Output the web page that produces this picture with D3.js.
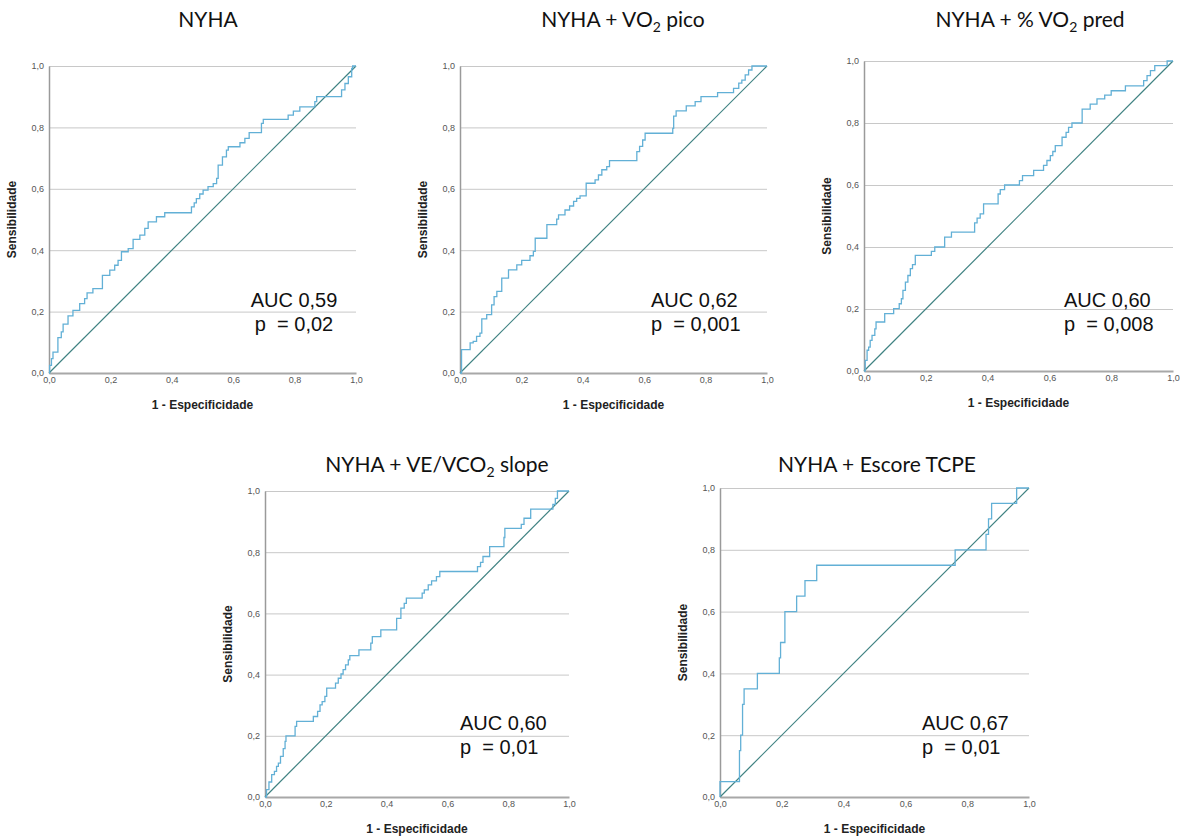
<!DOCTYPE html>
<html>
<head>
<meta charset="utf-8">
<script src="https://cdn.jsdelivr.net/npm/d3@7"></script>
<style>
  body { margin: 0; background: #fff; }
  svg { display: block; }
</style>
</head>
<body>
<div id="chart"></div>
<script>
const TICKS = [0, 0.2, 0.4, 0.6, 0.8, 1.0];

// odd segments are subscripts
const titles = [
    ["NYHA"],
    ["NYHA + VO", "2", " pico"],
    ["NYHA + % VO", "2", " pred"],
    ["NYHA + VE/VCO", "2", " slope"],
    ["NYHA + Escore TCPE"]
];
const aucLabels = ["AUC 0,59", "AUC 0,62", "AUC 0,60", "AUC 0,60", "AUC 0,67"];
const pLabels = ["p  = 0,02", "p  = 0,001", "p  = 0,008", "p  = 0,01", "p  = 0,01"];

// [1 - especificidade, sensibilidade] : at x the curve rises to y
const rocNyha = [
    [0, 0], [0.002, 0.025], [0.008, 0.047], [0.013, 0.068], [0.029, 0.115], [0.040, 0.134],
    [0.046, 0.159], [0.062, 0.186], [0.078, 0.204], [0.100, 0.226], [0.116, 0.242], [0.124, 0.261],
    [0.143, 0.275], [0.174, 0.318], [0.198, 0.335], [0.214, 0.351], [0.225, 0.367], [0.236, 0.395],
    [0.258, 0.405], [0.274, 0.435], [0.296, 0.449], [0.312, 0.471], [0.323, 0.492], [0.350, 0.509],
    [0.377, 0.522], [0.464, 0.541], [0.473, 0.554], [0.480, 0.568], [0.491, 0.583], [0.502, 0.596],
    [0.518, 0.607], [0.535, 0.617], [0.546, 0.634], [0.551, 0.677], [0.565, 0.704], [0.578, 0.726],
    [0.584, 0.737], [0.622, 0.750], [0.638, 0.764], [0.652, 0.783], [0.692, 0.813], [0.698, 0.826],
    [0.779, 0.840], [0.796, 0.853], [0.817, 0.867], [0.866, 0.884], [0.872, 0.900], [0.953, 0.922],
    [0.964, 0.943], [0.975, 0.965], [0.986, 0.992], [0.989, 1.0], [1.0, 1.0]
];
const rocVo2 = [
    [0, 0], [0.005, 0.076], [0.033, 0.098], [0.043, 0.103], [0.054, 0.119], [0.065, 0.130],
    [0.071, 0.176], [0.087, 0.190], [0.103, 0.222], [0.111, 0.249], [0.120, 0.266], [0.136, 0.309],
    [0.158, 0.336], [0.185, 0.352], [0.201, 0.367], [0.228, 0.382], [0.239, 0.396], [0.245, 0.439],
    [0.283, 0.483], [0.315, 0.501], [0.321, 0.515], [0.342, 0.531], [0.357, 0.544], [0.370, 0.559],
    [0.380, 0.569], [0.391, 0.577], [0.411, 0.618], [0.440, 0.629], [0.451, 0.645], [0.462, 0.662],
    [0.478, 0.672], [0.487, 0.692], [0.576, 0.721], [0.585, 0.738], [0.595, 0.759], [0.603, 0.781],
    [0.693, 0.797], [0.696, 0.837], [0.704, 0.854], [0.737, 0.870], [0.766, 0.884], [0.785, 0.900],
    [0.839, 0.913], [0.891, 0.927], [0.908, 0.944], [0.918, 0.954], [0.929, 0.971], [0.940, 0.987],
    [0.951, 1.0], [1.0, 1.0]
];
const rocVo2Pred = [
    [0, 0], [0.004, 0.034], [0.010, 0.067], [0.015, 0.077], [0.020, 0.099], [0.026, 0.115],
    [0.035, 0.136], [0.039, 0.158], [0.067, 0.185], [0.096, 0.201], [0.114, 0.217], [0.121, 0.233],
    [0.126, 0.260], [0.134, 0.287], [0.142, 0.308], [0.150, 0.330], [0.157, 0.343], [0.166, 0.373],
    [0.218, 0.386], [0.229, 0.400], [0.261, 0.432], [0.283, 0.448], [0.358, 0.478], [0.366, 0.493],
    [0.376, 0.507], [0.387, 0.539], [0.434, 0.571], [0.441, 0.585], [0.455, 0.600], [0.503, 0.614],
    [0.513, 0.630], [0.549, 0.647], [0.581, 0.663], [0.592, 0.679], [0.603, 0.695], [0.611, 0.708],
    [0.619, 0.727], [0.641, 0.754], [0.654, 0.770], [0.662, 0.786], [0.673, 0.800], [0.706, 0.845],
    [0.732, 0.861], [0.754, 0.878], [0.779, 0.890], [0.800, 0.904], [0.846, 0.920], [0.905, 0.937],
    [0.916, 0.953], [0.927, 0.969], [0.941, 0.985], [0.981, 1.0], [1.0, 1.0]
];
const rocVeVco2 = [
    [0, 0], [0.005, 0.024], [0.013, 0.049], [0.022, 0.073], [0.031, 0.084], [0.038, 0.100],
    [0.044, 0.111], [0.051, 0.133], [0.060, 0.158], [0.066, 0.182], [0.069, 0.200], [0.099, 0.231],
    [0.104, 0.247], [0.159, 0.263], [0.173, 0.280], [0.181, 0.301], [0.188, 0.312], [0.197, 0.329],
    [0.203, 0.356], [0.232, 0.372], [0.241, 0.388], [0.250, 0.402], [0.257, 0.416], [0.265, 0.432],
    [0.274, 0.448], [0.279, 0.462], [0.309, 0.481], [0.348, 0.503], [0.353, 0.524], [0.381, 0.546],
    [0.433, 0.584], [0.447, 0.617], [0.458, 0.633], [0.465, 0.650], [0.517, 0.666], [0.524, 0.677],
    [0.537, 0.693], [0.548, 0.706], [0.564, 0.720], [0.575, 0.737], [0.699, 0.753], [0.709, 0.767],
    [0.717, 0.786], [0.739, 0.818], [0.786, 0.848], [0.789, 0.878], [0.843, 0.891], [0.852, 0.911],
    [0.874, 0.941], [0.947, 0.956], [0.955, 0.976], [0.962, 1.0], [1.0, 1.0]
];
const rocTcpe = [
    [0, 0], [0, 0.05], [0.063, 0.15], [0.067, 0.20], [0.073, 0.30], [0.078, 0.35], [0.121, 0.40],
    [0.192, 0.45], [0.196, 0.50], [0.210, 0.60], [0.248, 0.65], [0.275, 0.70], [0.313, 0.75],
    [0.761, 0.80], [0.861, 0.85], [0.869, 0.90], [0.879, 0.95], [0.960, 1.0], [1.0, 1.0]
];
const rocSeries = [rocNyha, rocVo2, rocVo2Pred, rocVeVco2, rocTcpe];

// layout of each panel (plot box, title centre, AUC label)
const panels = [
    { x: 49, y: 66, w: 307, h: 307, tx: 208, ty: 27, ax: 294, ay: 307, anchor: "middle" },
    { x: 460, y: 66, w: 307, h: 307, tx: 623, ty: 27, ax: 651, ay: 307, anchor: "start" },
    { x: 864, y: 61, w: 309, h: 310, tx: 1030, ty: 27, ax: 1064, ay: 307, anchor: "start" },
    { x: 265, y: 491, w: 304, h: 306, tx: 437, ty: 472, ax: 460, ay: 730, anchor: "start" },
    { x: 720, y: 488, w: 309, h: 309, tx: 877, ty: 472, ax: 922, ay: 730, anchor: "start" }
];

const ROC_COLOR = "#62b0d6";
const DIAG_COLOR = "#3f8282";
const fmt = d => d3.format(".1f")(d).replace(".", ",");

const svg = d3.select("#chart")
    .append("svg")
    .attr("width", 1190)
    .attr("height", 837);

panels.forEach((p, i) => {
    const x = d3.scaleLinear().domain([0, 1]).range([0, p.w]);
    const y = d3.scaleLinear().domain([0, 1]).range([p.h, 0]);
    const g = svg.append("g").attr("transform", `translate(${p.x},${p.y})`);

    // horizontal grid lines
    g.append("g")
        .attr("class", "grid")
        .call(d3.axisLeft(y).tickValues(TICKS.slice(1)).tickSize(-p.w).tickFormat(""))
        .call(s => s.select(".domain").remove())
        .call(s => s.selectAll("line").attr("stroke", "#c8c8c8").attr("stroke-width", 1));

    // y axis
    g.append("g")
        .call(d3.axisLeft(y).tickValues(TICKS).tickSize(0).tickPadding(5).tickFormat(fmt))
        .call(s => s.select(".domain").attr("stroke", "#9a9a9a").attr("stroke-width", 1.5))
        .call(s => s.selectAll("text")
            .attr("font-family", "Liberation Sans, Arial, sans-serif")
            .attr("font-size", 9)
            .attr("fill", "#555"));

    // x axis
    g.append("g")
        .attr("transform", `translate(0,${p.h})`)
        .call(d3.axisBottom(x).tickValues(TICKS).tickSize(0).tickPadding(4).tickFormat(fmt))
        .call(s => s.select(".domain").attr("stroke", "#a8a8a8").attr("stroke-width", 2))
        .call(s => s.selectAll("text")
            .attr("font-family", "Liberation Sans, Arial, sans-serif")
            .attr("font-size", 9)
            .attr("fill", "#555"));

    // reference diagonal
    g.append("line")
        .attr("x1", x(0)).attr("y1", y(0))
        .attr("x2", x(1)).attr("y2", y(1))
        .attr("stroke", DIAG_COLOR)
        .attr("stroke-width", 1.2);

    // ROC curve
    const line = d3.line()
        .x(d => x(d[0]))
        .y(d => y(d[1]))
        .curve(d3.curveStepAfter);
    g.append("path")
        .datum(rocSeries[i])
        .attr("fill", "none")
        .attr("stroke", ROC_COLOR)
        .attr("stroke-width", 1.3)
        .attr("d", line);

    // axis titles
    g.append("text")
        .attr("transform", `translate(-33,${p.h / 2}) rotate(-90)`)
        .attr("text-anchor", "middle")
        .attr("font-family", "Liberation Sans, Arial, sans-serif")
        .attr("font-weight", "bold")
        .attr("font-size", 12)
        .attr("fill", "#222")
        .text("Sensibilidade");
    g.append("text")
        .attr("x", p.w / 2)
        .attr("y", p.h + 36)
        .attr("text-anchor", "middle")
        .attr("font-family", "Liberation Sans, Arial, sans-serif")
        .attr("font-weight", "bold")
        .attr("font-size", 12)
        .attr("fill", "#222")
        .text("1 - Especificidade");

    // panel title with subscript
    const t = svg.append("text")
        .attr("x", p.tx)
        .attr("y", p.ty)
        .attr("text-anchor", "middle")
        .attr("font-family", "Lato, sans-serif")
        .attr("font-size", 21)
        .attr("fill", "#111")
        .style("white-space", "pre");
    titles[i].forEach((seg, k) => {
        const ts = t.append("tspan").text(seg);
        if (k % 2 === 1) ts.attr("font-size", 14).attr("dy", 5);
        else if (k > 0) ts.attr("dy", -5);
    });

    // AUC annotation
    [aucLabels[i], pLabels[i]].forEach((txt, k) => {
        svg.append("text")
            .attr("x", p.ax)
            .attr("y", p.ay + k * 24)
            .attr("text-anchor", p.anchor)
            .attr("font-family", "Liberation Sans, Arial, sans-serif")
            .attr("font-size", 20)
            .attr("fill", "#111")
            .style("white-space", "pre")
            .text(txt);
    });
});
</script>
</body>
</html>
